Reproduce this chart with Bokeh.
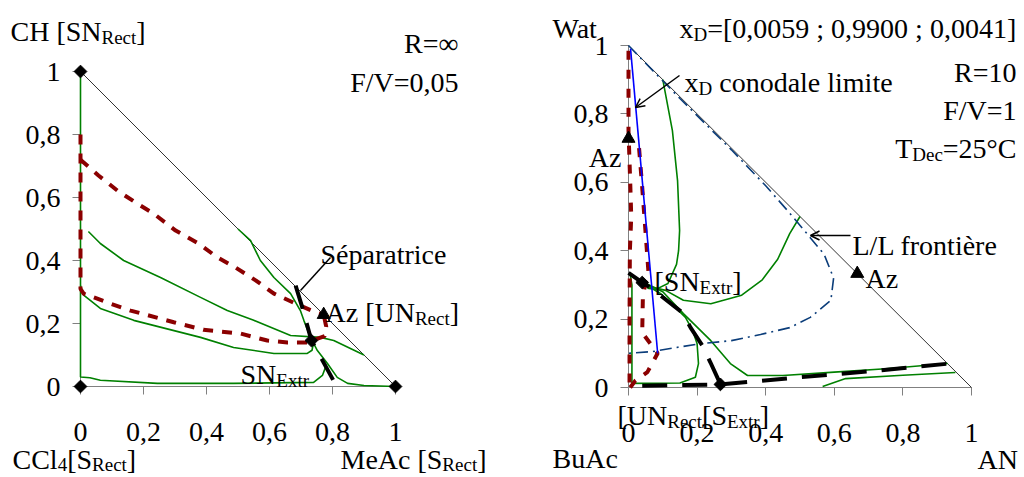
import numpy as np
from bokeh.plotting import figure
from bokeh.layouts import row
from bokeh.models import Range1d, LinearAxis, FixedTicker, CustomJSTickFormatter, Arrow, OpenHead
from bokeh.core.properties import value
from bokeh.embed import file_html
from bokeh.resources import INLINE

# ---------------- data: left diagram (CCl4 / MeAc / CH) ----------------
TICKS = [0, 0.2, 0.4, 0.6, 0.8, 1]

L_green0_x = [0, 0, 0.03, 0.063, 0.244, 0.486, 0.74, 0.768, 0.78]
L_green0_y = [1.0, 0.03, 0.028, 0.02, 0.01, 0.01, 0.013, 0.035, 0.067]
L_greenA_x = [0.0, 0.01, 0.063, 0.169, 0.381, 0.486, 0.614, 0.72, 0.735, 0.74]
L_greenA_y = [0.32, 0.29, 0.248, 0.21, 0.156, 0.124, 0.105, 0.105, 0.115, 0.14]
L_greenB_x = [0.025, 0.063, 0.137, 0.254, 0.381, 0.466, 0.55, 0.667, 0.762, 0.804, 0.9]
L_greenB_y = [0.492, 0.454, 0.40, 0.346, 0.283, 0.241, 0.21, 0.162, 0.156, 0.146, 0.10]
L_greenS_x = [0.50, 0.54, 0.571, 0.614, 0.667, 0.698, 0.709, 0.73, 0.752, 0.784, 0.815, 0.848, 0.9, 1.0]
L_greenS_y = [0.50, 0.463, 0.40, 0.346, 0.295, 0.241, 0.21, 0.156, 0.114, 0.073, 0.029, 0.01, 0.003, 0.0]
L_red1_x = [0, 0.057, 0.117, 0.175, 0.232, 0.302, 0.375, 0.434, 0.492, 0.556, 0.614, 0.69, 0.755, 0.772]
L_red1_y = [0.72, 0.67, 0.622, 0.584, 0.549, 0.495, 0.454, 0.41, 0.378, 0.337, 0.295, 0.26, 0.232, 0.228]
L_red2_x = [0, 0, 0.01, 0.095, 0.159, 0.296, 0.39, 0.508, 0.593, 0.657, 0.72, 0.775, 0.78, 0.772]
L_red2_y = [0.80, 0.31, 0.295, 0.263, 0.241, 0.204, 0.18, 0.168, 0.146, 0.14, 0.14, 0.16, 0.19, 0.228]
L_sep_x = [0.683, 0.705, 0.733, 0.768, 0.803]
L_sep_y = [0.32, 0.248, 0.146, 0.083, 0.019]
L_node_x = [0, 0, 1, 0.733]
L_node_y = [1, 0, 0, 0.146]
L_az_x = [0.772]
L_az_y = [0.228]

# ---------------- data: right diagram (BuAc / AN / Wat) ----------------
R_green1_x = [0.1, 0.128, 0.143, 0.149, 0.146, 0.14, 0.115, 0.08, 0.055]
R_green1_y = [0.9, 0.751, 0.605, 0.459, 0.40, 0.36, 0.304, 0.287, 0.29]
R_green2_x = [0.04, 0.108, 0.16, 0.24, 0.33, 0.39, 0.435, 0.47, 0.5]
R_green2_y = [0.30, 0.284, 0.255, 0.245, 0.27, 0.315, 0.375, 0.45, 0.5]
R_green3_x = [0.04, 0.1, 0.16, 0.24, 0.297, 0.347, 0.45, 0.6, 0.75, 0.93]
R_green3_y = [0.31, 0.28, 0.216, 0.137, 0.07, 0.035, 0.035, 0.045, 0.055, 0.07]
R_green4_x = [0.045, 0.064, 0.093, 0.131, 0.166, 0.187, 0.2, 0.204, 0.195, 0.15, 0.01, 0.01, 0.005]
R_green4_y = [0.30, 0.292, 0.275, 0.24, 0.205, 0.167, 0.128, 0.07, 0.03, 0.013, 0.012, 0.3, 0.33]
R_green5_x = [0.566, 0.633, 0.8, 0.953]
R_green5_y = [0.003, 0.026, 0.036, 0.044]
R_blue_x = [0.006, 0.085]
R_blue_y = [0.99, 0.10]
R_ll_x = [0.0, 0.15, 0.3, 0.4, 0.47, 0.52, 0.57, 0.598, 0.59, 0.53, 0.47, 0.385, 0.3, 0.21, 0.14, 0.07, 0.0]
R_ll_y = [1.0, 0.845, 0.695, 0.59, 0.51, 0.45, 0.39, 0.32, 0.255, 0.205, 0.175, 0.155, 0.137, 0.128, 0.117, 0.105, 0.10]
R_red1_x = [0, 0, 0.005, 0.008, 0.004, 0.003, 0.003]
R_red1_y = [0.985, 0.75, 0.6, 0.5, 0.4, 0.2, 0.0]
R_red2_x = [0.005, 0.02, 0.055, 0.085, 0.04, 0.042, 0.058, 0.05, 0.04, 0.03, 0.0]
R_red2_y = [0.0, 0.02, 0.045, 0.10, 0.16, 0.27, 0.34, 0.45, 0.585, 0.71, 0.728]
R_sep1_x = [0.0, 0.04, 0.064, 0.157, 0.181, 0.215, 0.239, 0.268]
R_sep1_y = [0.335, 0.307, 0.292, 0.219, 0.175, 0.123, 0.073, 0.01]
R_sep2_x = [0.04, 0.268, 0.5, 0.7, 0.936]
R_sep2_y = [0.005, 0.009, 0.03, 0.047, 0.07]
R_node_x = [0.04, 0.268]
R_node_y = [0.307, 0.009]
R_az_x = [0.0, 0.667]
R_az_y = [0.728, 0.333]

# ---------------- styling helpers ----------------
FONT = "Liberation Serif"
MAIN = 28
SUB = 19
GREEN = "#008000"
RED = "#8B0000"
NAVY = "#0B3D7A"
AXIS = "#808080"
H = 477

W = {' ': 250, '[': 333, ']': 333, '/': 278, '=': 564, ',': 250, ';': 278, '°': 400, '∞': 713,
     'A': 722, 'B': 667, 'C': 667, 'D': 722, 'E': 611, 'F': 556, 'H': 722, 'L': 611, 'M': 889,
     'N': 722, 'R': 667, 'S': 556, 'T': 611, 'U': 722, 'V': 722, 'W': 944,
     'a': 444, 'c': 444, 'd': 500, 'e': 444, 'é': 444, 'è': 444, 'f': 333, 'i': 278, 'l': 278,
     'm': 778, 'n': 500, 'o': 500, 'p': 500, 'r': 333, 't': 278, 'u': 500, 'x': 500, 'z': 444}


def tw(s, size):
    return sum(W.get(c, 500) for c in s) * size / 1000.0


def make_fig(w, x0, x1, y0, y1):
    p = figure(width=w, height=H, x_range=Range1d(x0, x1), y_range=Range1d(y0, y1),
               output_backend="svg", toolbar_location=None, x_axis_type=None, y_axis_type=None,
               min_border=0, min_border_left=0, min_border_right=0, min_border_top=0,
               min_border_bottom=0)
    p.outline_line_color = None
    p.background_fill_color = "white"
    p.border_fill_color = "white"
    fmt = CustomJSTickFormatter(code="return (Math.round(tick*10)/10).toString().replace('.', ',');")
    for loc, side in (("x", "below"), ("y", "left")):
        ax = LinearAxis(fixed_location=0, bounds=(0, 1), ticker=FixedTicker(ticks=TICKS),
                        formatter=fmt, level="underlay")
        ax.axis_line_color = AXIS
        ax.major_tick_line_color = AXIS
        ax.minor_tick_line_color = None
        ax.major_tick_in = 0
        ax.major_tick_out = 8
        ax.major_label_text_font = FONT
        ax.major_label_text_font_size = f"{MAIN}px"
        ax.major_label_text_color = "black"
        ax.major_label_standoff = 28 if loc == "x" else 12
        p.add_layout(ax, side)
    return p


def label(p, cx, cy, px, py, pieces, align="left", sub_dy=6):
    total = sum(tw(t, SUB if s else MAIN) for t, s in pieces)
    start = px - total if align == "right" else px
    off = 0.0
    for t, s in pieces:
        size = SUB if s else MAIN
        stripped = t.lstrip(" ")
        lead = tw(t[:len(t) - len(stripped)], size)
        p.text(x=[cx(start)], y=[cy(py)], text=[stripped], x_offset=off + lead,
               y_offset=(sub_dy if s else 0),
               text_font=value(FONT), text_font_size=f"{size}px", text_color="black",
               text_align="left", text_baseline="alphabetic")
        off += tw(t, size)


# ---------------- left figure (page x 0..512) ----------------
Lx = lambda px: (px - 80) / 315.0
Ly = lambda py: (386 - py) / 315.0
ytop1 = 1 + 71 / 315.0
p1 = make_fig(512, -80 / 315.0, -80 / 315.0 + 512 / 315.0, ytop1 - H / 315.0, ytop1)

p1.line([0, 1], [1, 0], line_color="#333333", line_width=1)
for xs, ys in ((L_green0_x, L_green0_y), (L_greenA_x, L_greenA_y),
               (L_greenB_x, L_greenB_y), (L_greenS_x, L_greenS_y)):
    p1.line(xs, ys, line_color=GREEN, line_width=1.6)
p1.line(L_red1_x, L_red1_y, line_color=RED, line_width=4, line_dash="10 9")
p1.line(L_red2_x, L_red2_y, line_color=RED, line_width=4, line_dash="10 9")
p1.line(L_sep_x, L_sep_y, line_color="black", line_width=4, line_dash="24 15")
p1.scatter(L_node_x, L_node_y, marker="square", size=9, angle=np.pi / 4, color="black")
p1.scatter(L_az_x, L_az_y, marker="triangle", size=13, color="black")
p1.line([Lx(330), Lx(300)], [Ly(257), Ly(290)], line_color="black", line_width=1.5)

label(p1, Lx, Ly, 10, 31, [("CH [SN", False), ("Rect", True), ("]", False)])
label(p1, Lx, Ly, 458, 43, [("R=∞", False)], align="right")
label(p1, Lx, Ly, 458, 82, [("F/V=0,05", False)], align="right")
label(p1, Lx, Ly, 320, 254, [("Séparatrice", False)])
label(p1, Lx, Ly, 325, 312, [("Az [UN", False), ("Rect", True), ("]", False)])
label(p1, Lx, Ly, 240, 374, [("SN", False), ("Extr", True)])
label(p1, Lx, Ly, 12, 459, [("CCl", False), ("4", True), ("[S", False), ("Rect", True), ("]", False)],
      sub_dy=5)
label(p1, Lx, Ly, 340, 459, [("MeAc [S", False), ("Rect", True), ("]", False)], sub_dy=5)

# ---------------- right figure (page x 512..1023) ----------------
Rx = lambda px: (px - 628) / 343.0
Ry = lambda py: (387 - py) / 342.0
ytop2 = 1 + 45 / 342.0
p2 = make_fig(511, -116 / 343.0, -116 / 343.0 + 511 / 343.0, ytop2 - H / 342.0, ytop2)

p2.line([0, 1], [1, 0], line_color="#333333", line_width=1)
for xs, ys in ((R_green1_x, R_green1_y), (R_green2_x, R_green2_y), (R_green3_x, R_green3_y),
               (R_green4_x, R_green4_y), (R_green5_x, R_green5_y)):
    p2.line(xs, ys, line_color=GREEN, line_width=1.6)
p2.line(R_ll_x, R_ll_y, line_color=NAVY, line_width=1.6, line_dash="12 5 2 5")
p2.line(R_red1_x, R_red1_y, line_color=RED, line_width=4, line_dash="9 10")
p2.line(R_red2_x, R_red2_y, line_color=RED, line_width=4, line_dash="9 10")
p2.line(R_blue_x, R_blue_y, line_color="#0000FF", line_width=1.6)
p2.line(R_sep1_x, R_sep1_y, line_color="black", line_width=4, line_dash="25 15")
p2.line(R_sep2_x, R_sep2_y, line_color="black", line_width=4, line_dash="25 15")
p2.scatter(R_node_x, R_node_y, marker="square", size=9, angle=np.pi / 4, color="black")
p2.scatter(R_az_x, R_az_y, marker="triangle", size=13, color="black")

p2.add_layout(Arrow(end=OpenHead(size=9, line_width=1.5), x_start=Rx(679), y_start=Ry(75),
                    x_end=Rx(635), y_end=Ry(107), line_width=1.5))
p2.add_layout(Arrow(end=OpenHead(size=9, line_width=1.5), x_start=Rx(850), y_start=Ry(235),
                    x_end=Rx(810), y_end=Ry(235), line_width=1.5))

label(p2, Rx, Ry, 552, 28, [("Wat", False)])
label(p2, Rx, Ry, 679, 28, [("x", False), ("D", True), ("=[0,0059 ; 0,9900 ; 0,0041]", False)])
label(p2, Rx, Ry, 1016, 72, [("R=10", False)], align="right")
label(p2, Rx, Ry, 1016, 110, [("F/V=1", False)], align="right")
label(p2, Rx, Ry, 1016, 148, [("T", False), ("Dec", True), ("=25°C", False)], align="right")
label(p2, Rx, Ry, 684, 82, [("x", False), ("D", True), (" conodale limite", False)])
label(p2, Rx, Ry, 621, 157, [("Az", False)], align="right")
label(p2, Rx, Ry, 852, 245, [("L/L frontière", False)])
label(p2, Rx, Ry, 865, 278, [("Az", False)])
label(p2, Rx, Ry, 654, 281, [("[SN", False), ("Extr", True), ("]", False)])
label(p2, Rx, Ry, 617, 415, [("[UN", False), ("Rect", True), ("[S", False), ("Extr", True), ("]", False)])
label(p2, Rx, Ry, 552, 458, [("BuAc", False)])
label(p2, Rx, Ry, 977, 459, [("AN", False)])

layout = row(p1, p2)
open("out.html", "w").write(file_html(layout, INLINE))
